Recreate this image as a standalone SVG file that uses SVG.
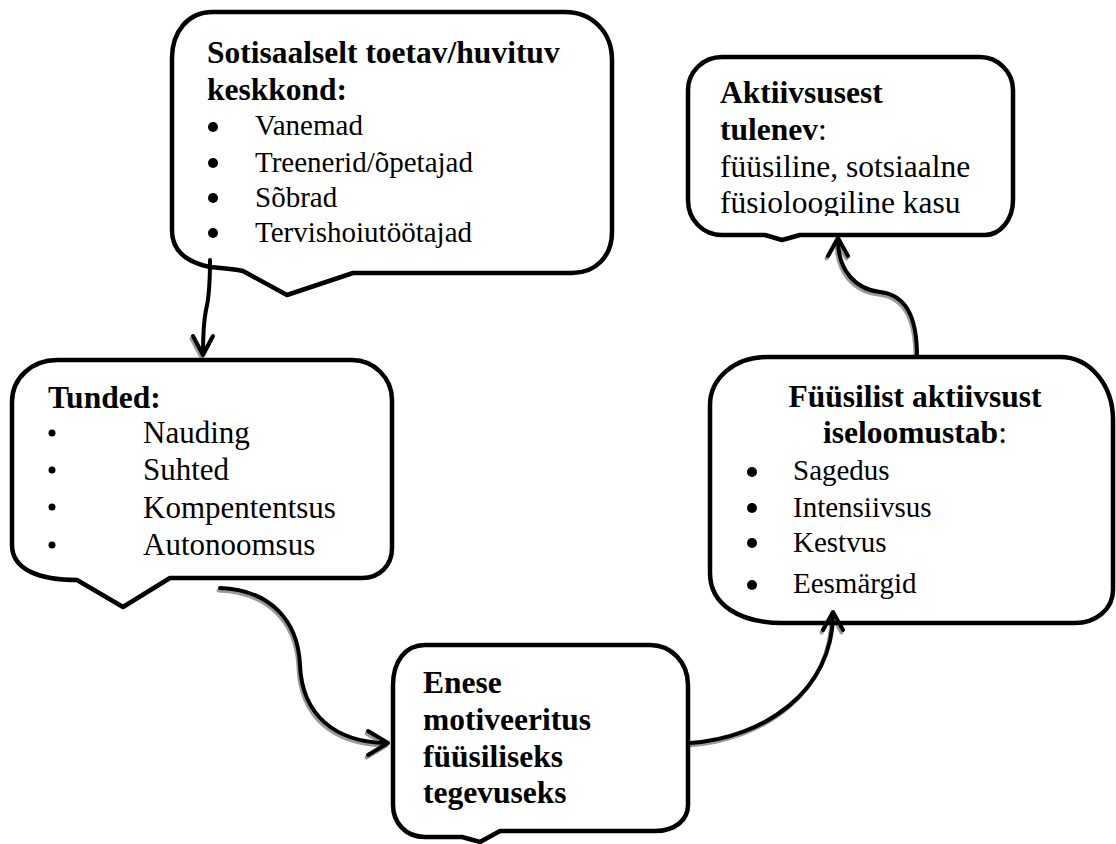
<svg xmlns="http://www.w3.org/2000/svg" width="1116" height="844" viewBox="0 0 1116 844">
<defs>
<style>
.box{fill:#fff;stroke:#000;stroke-width:4.5;stroke-linejoin:round}
.t{font-family:"Liberation Serif","Times New Roman",serif;fill:#000}
.b{font-weight:bold;font-size:31.5px}
.r29{font-size:29px}
.r31{font-size:31px}
.dot{fill:#000}
.line{fill:none;stroke:#000;stroke-width:4;stroke-linecap:round;stroke-linejoin:round}
.shadow{fill:none;stroke:#9a9a9a;stroke-width:4;stroke-linecap:round;stroke-linejoin:round}
</style>
<clipPath id="clipOut"><rect x="680" y="50" width="340" height="166"/></clipPath>
</defs>
<rect width="1116" height="844" fill="#fff"/>

<g id="connectors">
<g transform="translate(-1.5,2.5)">
<path class="shadow" d="M220,588 C270,590 298,620 300,665 C302,715 335,742 386,743"/>
<path class="shadow" d="M368,731 L388,743 L368,755"/>
<path class="shadow" d="M690,743 C765,738 833,690 833,614"/>
<path class="shadow" d="M823,630 L833,612 L843,630"/>
<path class="shadow" d="M917,356 C917,315 905,295 880,292 C855,289 838,270 838,240"/>
<path class="shadow" d="M828,256 L838,238 L848,256"/>
<path class="shadow" d="M193,336 L203,355 L213,336"/>
</g>
</g>

<g id="n-social">
<path class="box" d="M212,12 H565 C592,12 612,32 612,60 V232 C612,256 596,273 572,273 H353 L287,295 L243,271 C230,268 220,268 210,267 C185,262 172,250 172,230 V58 C172,32 188,12 212,12 Z"/>
<text class="t b" x="207" y="63">Sotisaalselt toetav/huvituv</text>
<text class="t b" x="207" y="100">keskkond:</text>
<circle class="dot" cx="213" cy="127" r="5"/>
<circle class="dot" cx="213" cy="163" r="5"/>
<circle class="dot" cx="213" cy="198" r="5"/>
<circle class="dot" cx="213" cy="233" r="5"/>
<text class="t r29" x="255" y="135">Vanemad</text>
<text class="t r29" x="255" y="172">Treenerid/õpetajad</text>
<text class="t r29" x="255" y="207">Sõbrad</text>
<text class="t r29" x="255" y="242">Tervishoiutöötajad</text>
</g>

<g id="n-outcome">
<path class="box" d="M722,57 H980 C998,57 1013,72 1013,90 V200 C1013,220 1000,235 985,235 H800 L782,240 L765,235 H722 C703,235 688,220 688,200 V90 C688,72 703,57 722,57 Z"/>
<text class="t b" x="720" y="103">Aktiivsusest</text>
<text class="t b" x="720" y="140">tulenev<tspan font-weight="normal">:</tspan></text>
<text class="t" font-size="31.5" x="720" y="177">füüsiline, sotsiaalne</text>
<g clip-path="url(#clipOut)"><text class="t" font-size="31.5" x="720" y="213">füsioloogiline kasu</text></g>
</g>

<g id="n-feelings">
<path class="box" d="M57,360 H352 C374,360 392,378 392,400 V548 C392,565 380,578 362,578 H170 L123,607 L77,580 C40,580 12,570 12,545 V402 C12,378 32,360 57,360 Z"/>
<text class="t b" x="48" y="408">Tunded:</text>
<circle class="dot" cx="52" cy="433" r="3.5"/>
<circle class="dot" cx="52" cy="470" r="3.5"/>
<circle class="dot" cx="52" cy="507" r="3.5"/>
<circle class="dot" cx="52" cy="545" r="3.5"/>
<text class="t r31" x="143" y="443">Nauding</text>
<text class="t r31" x="143" y="480">Suhted</text>
<text class="t r31" x="143" y="518">Kompententsus</text>
<text class="t r31" x="143" y="555">Autonoomsus</text>
</g>

<g id="n-characteristics">
<path class="box" d="M767,357 H1060 C1090,357 1113,385 1113,420 V590 C1113,610 1095,623 1075,623 H783 C740,623 710,605 710,573 V405 C710,378 735,357 767,357 Z"/>
<text class="t b" x="915" y="407" text-anchor="middle">Füüsilist aktiivsust</text>
<text class="t b" x="915" y="443" text-anchor="middle">iseloomustab<tspan font-weight="normal">:</tspan></text>
<circle class="dot" cx="752" cy="472" r="5"/>
<circle class="dot" cx="752" cy="508" r="5"/>
<circle class="dot" cx="752" cy="543" r="5"/>
<circle class="dot" cx="752" cy="585" r="5"/>
<text class="t r29" x="793" y="480">Sagedus</text>
<text class="t r29" x="793" y="517">Intensiivsus</text>
<text class="t r29" x="793" y="552">Kestvus</text>
<text class="t r29" x="793" y="593">Eesmärgid</text>
</g>

<g id="n-motivation">
<path class="box" d="M425,645 H650 C671,645 688,662 688,685 V805 C688,820 675,831 655,831 H500 L480,842 L462,837 H425 C405,837 393,822 393,805 V685 C393,662 405,645 425,645 Z"/>
<text class="t b" x="423" y="693">Enese</text>
<text class="t b" x="423" y="730">motiveeritus</text>
<text class="t b" x="423" y="767">füüsiliseks</text>
<text class="t b" x="423" y="803">tegevuseks</text>
</g>

<g id="connector-lines">
<path class="line" d="M210,260 C210,285 209,298 206,310 C203,325 203,340 203,354"/>
<path class="line" d="M193,336 L203,355 L213,336"/>
<path class="line" d="M220,588 C270,590 298,620 300,665 C302,715 335,742 386,743"/>
<path class="line" d="M368,731 L388,743 L368,755"/>
<path class="line" d="M690,743 C765,738 833,690 833,614"/>
<path class="line" d="M823,630 L833,612 L843,630"/>
<path class="line" d="M917,356 C917,315 905,295 880,292 C855,289 838,270 838,240"/>
<path class="line" d="M828,256 L838,238 L848,256"/>
</g>
</svg>
